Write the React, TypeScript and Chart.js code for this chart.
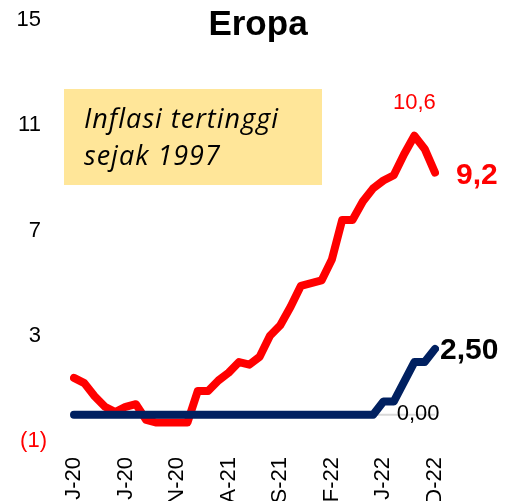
import React, { useEffect, useRef } from "react";
import { Chart, registerables } from "chart.js";
Chart.register(...registerables);

const months = [
  "J-20","F-20","M-20","A-20","M-20","J-20","J-20","A-20","S-20","O-20","N-20","D-20",
  "J-21","F-21","M-21","A-21","M-21","J-21","J-21","A-21","S-21","O-21","N-21","D-21",
  "J-22","F-22","M-22","A-22","M-22","J-22","J-22","A-22","S-22","O-22","N-22","D-22",
];
const inflation = [
  1.4, 1.2, 0.7, 0.3, 0.1, 0.3, 0.4, -0.2, -0.3, -0.3, -0.3, -0.3,
  0.9, 0.9, 1.3, 1.6, 2.0, 1.9, 2.2, 3.0, 3.4, 4.1, 4.9, 5.0,
  5.1, 5.9, 7.4, 7.4, 8.1, 8.6, 8.9, 9.1, 9.9, 10.6, 10.1, 9.2,
];
const policyRate = [
  0, 0, 0, 0, 0, 0, 0, 0, 0, 0, 0, 0,
  0, 0, 0, 0, 0, 0, 0, 0, 0, 0, 0, 0,
  0, 0, 0, 0, 0, 0, 0.5, 0.5, 1.25, 2.0, 2.0, 2.5,
];
const yTicks = [-1, 3, 7, 11, 15];
const labelEvery = 5;
const titleText = "Eropa";
const noteLines = ["Inflasi tertinggi", "sejak 1997"];
const zeroLabelIndex = 31;

const RED = "#FF0000";
const NAVY = "#002060";
const FONT = "Arial, 'Liberation Sans', sans-serif";

const fmt = (v: number, d: number) => v.toFixed(d).replace(".", ",");

const overlay = {
  id: "overlay",
  beforeDatasetsDraw(chart: any) {
    const { ctx, chartArea, scales } = chart;
    const y0 = scales.y.getPixelForValue(0);
    ctx.save();
    ctx.strokeStyle = "#D9D9D9";
    ctx.lineWidth = 2;
    ctx.beginPath();
    ctx.moveTo(chartArea.left, y0);
    ctx.lineTo(chartArea.right, y0);
    ctx.stroke();
    ctx.restore();
  },
  afterDatasetsDraw(chart: any) {
    const { ctx, scales } = chart;
    const { x, y } = scales;
    ctx.save();
    let pi = 0;
    inflation.forEach((v, i) => { if (v > inflation[pi]) pi = i; });
    ctx.fillStyle = RED;
    ctx.font = `22px ${FONT}`;
    ctx.textAlign = "center";
    ctx.textBaseline = "middle";
    ctx.fillText(fmt(inflation[pi], 1), x.getPixelForValue(pi), y.getPixelForValue(inflation[pi]) - 33);
    const li = inflation.length - 1;
    ctx.font = `bold 30px ${FONT}`;
    ctx.textAlign = "left";
    ctx.fillText(fmt(inflation[li], 1), x.getPixelForValue(li) + 21, y.getPixelForValue(inflation[li]) + 3);
    const ri = policyRate.length - 1;
    ctx.fillStyle = "#000";
    ctx.fillText(fmt(policyRate[ri], 2), x.getPixelForValue(ri) + 5, y.getPixelForValue(policyRate[ri]) + 2);
    ctx.font = `22px ${FONT}`;
    ctx.fillText(fmt(0, 2), x.getPixelForValue(zeroLabelIndex) + 3, y.getPixelForValue(0) - 1);
    ctx.restore();
  },
  afterDraw(chart: any) {
    const { ctx } = chart;
    ctx.save();
    ctx.fillStyle = "#000";
    ctx.font = `bold 35px ${FONT}`;
    ctx.textAlign = "center";
    ctx.textBaseline = "alphabetic";
    ctx.fillText(titleText, 258, 35);
    ctx.fillStyle = "#FFE699";
    ctx.fillRect(64, 89, 258, 96);
    ctx.fillStyle = "#000";
    ctx.textAlign = "left";
    ctx.font = `italic 27px 'Open Sans', sans-serif`;
    (ctx as any).letterSpacing = "1px";
    ctx.fillText(noteLines[0], 84, 128);
    ctx.fillText(noteLines[1], 84, 165);
    ctx.restore();
  },
};

export default function App() {
  const ref = useRef<HTMLCanvasElement>(null);
  useEffect(() => {
    if (!ref.current) return;
    const chart = new Chart(ref.current, {
      type: "line",
      data: {
        labels: months,
        datasets: [
          {
            label: "Suku bunga",
            data: policyRate,
            borderColor: NAVY,
            borderWidth: 8,
            pointRadius: 0,
            tension: 0,
            borderCapStyle: "round",
            borderJoinStyle: "round",
            order: 0,
          },
          {
            label: "Inflasi",
            data: inflation,
            borderColor: RED,
            borderWidth: 8,
            pointRadius: 0,
            tension: 0,
            borderCapStyle: "round",
            borderJoinStyle: "round",
            order: 1,
          },
        ],
      },
      options: {
        responsive: false,
        animation: false,
        devicePixelRatio: 1,
        layout: { padding: { left: 0, right: 78, top: 20, bottom: 0 } },
        plugins: { legend: { display: false }, tooltip: { enabled: false }, title: { display: false } },
        scales: {
          x: {
            type: "category",
            offset: false,
            grid: { display: false, drawTicks: false },
            border: { display: false },
            ticks: {
              autoSkip: false,
              minRotation: 90,
              maxRotation: 90,
              padding: 16,
              color: "#000",
              font: { size: 22, family: FONT },
              callback: (_v: any, i: number) => (i % labelEvery === 0 ? months[i] : ""),
            },
            afterFit: (s: any) => { s.height = 99; s.paddingLeft = 0; s.paddingRight = 0; },
          },
          y: {
            min: -1,
            max: 15,
            grid: { display: false, drawTicks: false },
            border: { display: false },
            afterBuildTicks: (s: any) => { s.ticks = yTicks.map((v) => ({ value: v })); },
            ticks: {
              padding: 27,
              color: (c: any) => (c.tick && c.tick.value < 0 ? RED : "#000"),
              font: { size: 22, family: FONT },
              callback: (v: any) => (Number(v) < 0 ? `(${Math.abs(Number(v))})` : `${v} `),
            },
            afterFit: (s: any) => { s.width = 74; s.paddingTop = 0; s.paddingBottom = 0; },
          },
        },
      },
      plugins: [overlay],
    });
    return () => chart.destroy();
  }, []);
  return (
    <div style={{ position: "fixed", left: 0, top: 0, width: 513, height: 501, overflow: "hidden", background: "#fff" }}>
      <canvas ref={ref} width={513} height={540} style={{ display: "block" }} />
    </div>
  );
}
